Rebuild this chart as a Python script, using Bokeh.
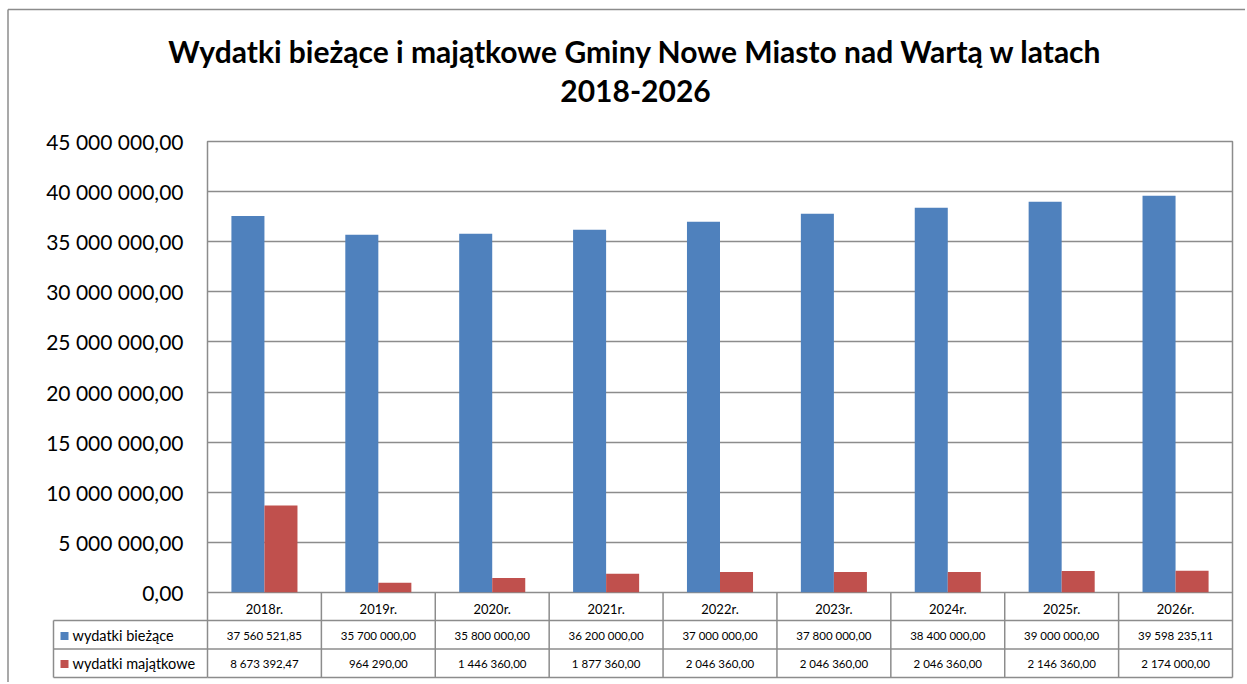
from bokeh.plotting import figure
from bokeh.models import (FactorRange, Range1d, FixedTicker, CustomJSTickFormatter,
                          ColumnDataSource)
from bokeh.transform import dodge
from bokeh.core.properties import value
from bokeh.embed import file_html
from bokeh.resources import INLINE

# ---------------- data ----------------
title_lines = ["Wydatki bieżące i majątkowe Gminy Nowe Miasto nad Wartą w latach", "2018-2026"]
years = ["2018r.", "2019r.", "2020r.", "2021r.", "2022r.", "2023r.", "2024r.", "2025r.", "2026r."]
series_names = ["wydatki bieżące", "wydatki majątkowe"]
wydatki_biezace = [37560521.85, 35700000.00, 35800000.00, 36200000.00, 37000000.00,
                   37800000.00, 38400000.00, 39000000.00, 39598235.11]
wydatki_majatkowe = [8673392.47, 964290.00, 1446360.00, 1877360.00, 2046360.00,
                     2046360.00, 2046360.00, 2146360.00, 2174000.00]
y_ticks = [0, 5e6, 10e6, 15e6, 20e6, 25e6, 30e6, 35e6, 40e6, 45e6]

BLUE = "#4F81BD"
RED = "#C0504D"
GRID = "#8c8c8c"
FONT = "Lato"

W, H = 1245, 682
FL, FR, FT, FB = 207, 1232, 141, 592          # frame edges in figure pixels
YMAX = 45e6
COLW = (FR - FL) / len(years)
YPX = YMAX / (FB - FT)


def xd(px):   # figure pixel -> synthetic x
    return (px - FL) / COLW


def yd(py):   # figure pixel -> data y
    return (FB - py) * YPX


def pl_fmt(v):
    return f"{v:,.2f}".replace(",", " ").replace(".", ",")


src = ColumnDataSource(dict(year=years, b=wydatki_biezace, m=wydatki_majatkowe))

p = figure(x_range=FactorRange(*years, range_padding=0), y_range=Range1d(0, YMAX),
           width=W, height=H, min_border_left=FL, min_border_right=W - FR,
           min_border_top=FT, min_border_bottom=H - FB,
           output_backend="svg", toolbar_location=None)
p.vbar(x=dodge("year", -0.145, range=p.x_range), top="b", width=0.29, source=src,
       fill_color=BLUE, line_color=None)
p.vbar(x=dodge("year", 0.145, range=p.x_range), top="m", width=0.29, source=src,
       fill_color=RED, line_color=None)

p.background_fill_color = "white"
p.border_fill_color = "white"
p.outline_line_color = GRID
p.outline_line_width = 1.5
p.xgrid.grid_line_color = None
p.ygrid.grid_line_color = GRID
p.ygrid.grid_line_width = 1.5

p.yaxis.ticker = FixedTicker(ticks=y_ticks)
p.yaxis.formatter = CustomJSTickFormatter(code="""
    const s = tick.toFixed(2).split('.');
    return s[0].replace(/\\B(?=(\\d{3})+(?!\\d))/g, ' ') + ',' + s[1];
""")
p.yaxis.axis_line_color = None
p.yaxis.major_tick_line_color = None
p.yaxis.minor_tick_line_color = None
p.yaxis.major_tick_out = 0
p.yaxis.major_label_standoff = 24
p.yaxis.major_label_text_font = FONT
p.yaxis.major_label_text_font_size = "21px"
p.yaxis.major_label_text_color = "black"

# category axis = header row of the data table
p.xaxis.axis_line_color = None
p.xaxis.major_tick_line_color = None
p.xaxis.major_tick_out = 0
p.xaxis.major_label_standoff = 8
p.xaxis.major_label_text_font = FONT
p.xaxis.major_label_text_font_size = "13px"
p.xaxis.major_label_text_color = "black"

OV = "overlay"
n = len(years)

# title
p.text(x=[xd(635)] * 2, y=[yd(50), yd(90)], text=title_lines, text_align="center",
       text_baseline="middle", text_font=value(FONT), text_font_size="30px",
       text_font_style="bold", text_color="black", level=OV)

# outer border (left, top)
p.segment(x0=[xd(7.5), xd(7.5)], y0=[yd(H), yd(9)], x1=[xd(7.5), xd(W)], y1=[yd(9), yd(9)],
          line_color=GRID, line_width=1.5, level=OV)

# table grid
y_h1, y_r1, y_r2 = yd(620), yd(648.5), yd(677)     # row separators / bottom
x_leg = xd(53)
p.segment(x0=[x_leg, x_leg], y0=[y_h1, y_r1], x1=[n, n], y1=[y_h1, y_r1],
          line_color=GRID, line_width=1.5, level=OV)
p.segment(x0=[x_leg, 0], y0=[y_r2, y_r2], x1=[0, n], y1=[y_r2, y_r2],
          line_color=GRID, line_width=1.5, level=OV)
vx = [x_leg] + list(range(n + 1))
p.segment(x0=vx, y0=[y_r2] * len(vx), x1=vx, y1=[y_h1] + [0] * (n + 1),
          line_color=GRID, line_width=1.5, level=OV)

xc = [i + 0.5 for i in range(n)]
tsrc = ColumnDataSource(dict(
    x=xc * 2,
    y=[yd(634.5)] * n + [yd(663)] * n,
    t=[pl_fmt(v) for v in wydatki_biezace] + [pl_fmt(v) for v in wydatki_majatkowe],
))
p.text(x="x", y="y", text="t", source=tsrc, text_align="center", text_baseline="middle",
       text_font=value(FONT), text_font_size="11.5px", text_color="black", level=OV)

# legend keys (drawn as short thick strokes) + names
p.segment(x0=[xd(60)] * 2, y0=[yd(635.5), yd(663.5)], x1=[xd(68)] * 2, y1=[yd(635.5), yd(663.5)],
          line_color=[BLUE, RED], line_width=8, line_cap="butt", level=OV)
p.text(x=[xd(72)] * 2, y=[yd(634.5), yd(663)], text=series_names, text_align="left",
       text_baseline="middle", text_font=value(FONT), text_font_size="14.5px",
       text_color="black", level=OV)

open("out.html", "w").write(file_html(p, INLINE))
